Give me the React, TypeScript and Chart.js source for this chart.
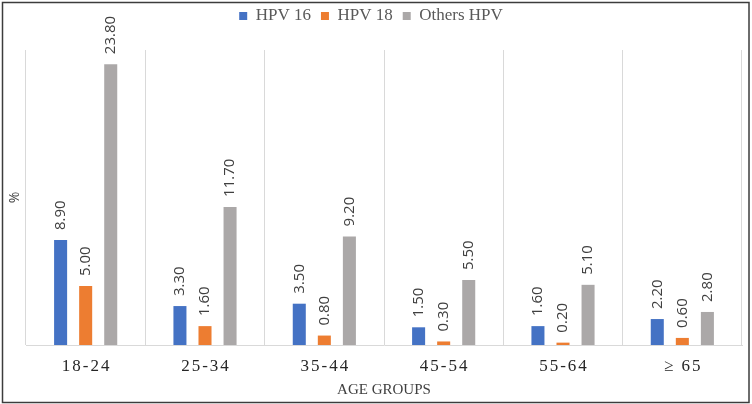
import React, { useEffect, useRef } from "react";
import { Chart, registerables } from "chart.js";

Chart.register(...registerables);

const categories = ["18-24", "25-34", "35-44", "45-54", "55-64", "≥ 65"];
const seriesNames = ["HPV 16", "HPV 18", "Others HPV"];
const hpv16 = [8.9, 3.3, 3.5, 1.5, 1.6, 2.2];
const hpv18 = [5.0, 1.6, 0.8, 0.3, 0.2, 0.6];
const othersHpv = [23.8, 11.7, 9.2, 5.5, 5.1, 2.8];
const seriesColors = ["#4472C4", "#ED7D31", "#ABA8A8"];
const yMin = 0;
const yMax = 25;
const xTitle = "AGE GROUPS";
const yTitle = "%";

const SERIF = "'Liberation Serif', 'Times New Roman', serif";
const SANS = "'Open Sans', 'Noto Sans', sans-serif";

function patchLegend(chart: any) {
  const lg = chart.legend;
  if (lg && !lg.__patched) {
    const orig = lg.fit;
    lg.fit = function () {
      orig.call(this);
      this.height += 15.5;
    };
    lg.__patched = true;
  }
}

const legendSpacer = {
  id: "legendSpacer",
  afterInit(chart: any) {
    patchLegend(chart);
  },
  beforeUpdate(chart: any) {
    patchLegend(chart);
  },
};

const customDraw = {
  id: "customDraw",
  afterDatasetsDraw(chart: any) {
    const ctx = chart.ctx;
    ctx.save();
    ctx.font = `15px ${SANS}`;
    ctx.fillStyle = "#404040";
    ctx.textAlign = "left";
    ctx.textBaseline = "middle";
    chart.data.datasets.forEach((ds: any, di: number) => {
      const meta = chart.getDatasetMeta(di);
      meta.data.forEach((bar: any, i: number) => {
        const v = ds.data[i];
        ctx.save();
        ctx.translate(bar.x, bar.y - 10);
        ctx.rotate(-Math.PI / 2);
        ctx.fillText(Number(v).toFixed(2), 0, 0);
        ctx.restore();
      });
    });
    ctx.restore();
  },
  afterDraw(chart: any) {
    const ctx = chart.ctx;
    const xs = chart.scales.x;
    ctx.save();
    ctx.font = `17px ${SERIF}`;
    (ctx as any).letterSpacing = "2px";
    ctx.fillStyle = "#262626";
    ctx.textAlign = "center";
    ctx.textBaseline = "middle";
    categories.forEach((c, i) => {
      ctx.fillText(c, xs.getPixelForValue(i) + 1, xs.top + 22);
    });
    (ctx as any).letterSpacing = "0px";
    ctx.strokeStyle = "#3c3c3c";
    ctx.lineWidth = 1.5;
    ctx.strokeRect(2.5, 2.5, chart.width - 5.5, chart.height - 4);
    ctx.restore();
  },
};

export default function App() {
  const ref = useRef<HTMLCanvasElement | null>(null);

  useEffect(() => {
    if (!ref.current) return;
    const seriesData = [hpv16, hpv18, othersHpv];
    const chart = new Chart(ref.current, {
      type: "bar",
      data: {
        labels: categories,
        datasets: seriesNames.map((name, i) => ({
          label: name,
          data: seriesData[i],
          backgroundColor: seriesColors[i],
          borderWidth: 0,
          categoryPercentage: 0.63,
          barPercentage: 0.52,
        })),
      },
      options: {
        animation: false,
        responsive: true,
        maintainAspectRatio: false,
        layout: { padding: { top: -2.5, left: 0, right: 10, bottom: 0 } },
        plugins: {
          legend: {
            position: "top",
            align: "center",
            labels: {
              boxWidth: 8,
              boxHeight: 8,
              padding: 10,
              color: "#595959",
              font: { family: SERIF, size: 17 },
            },
          },
          tooltip: { enabled: false },
        },
        scales: {
          x: {
            grid: { display: true, color: "#D9D9D9", drawTicks: false, offset: true },
            border: { display: true, color: "#D9D9D9" },
            ticks: { display: false },
            title: {
              display: true,
              text: xTitle,
              color: "#404040",
              font: { family: SERIF, size: 15 },
              padding: { top: 0, bottom: 5 },
            },
            afterFit(s: any) {
              s.height = 59;
            },
          },
          y: {
            min: yMin,
            max: yMax,
            grid: { display: false },
            border: { display: false },
            ticks: { display: false },
            title: {
              display: true,
              text: yTitle,
              color: "#404040",
              font: { family: SANS, size: 14 },
              padding: { top: 6.6, bottom: 0 },
            },
            afterFit(s: any) {
              s.width = 26;
            },
          },
        },
      } as any,
      plugins: [legendSpacer, customDraw],
    });
    return () => chart.destroy();
  }, []);

  return (
    <div style={{ position: "absolute", left: 0, top: 0, width: 752, height: 404, background: "#fff" }}>
      <canvas ref={ref} />
    </div>
  );
}
